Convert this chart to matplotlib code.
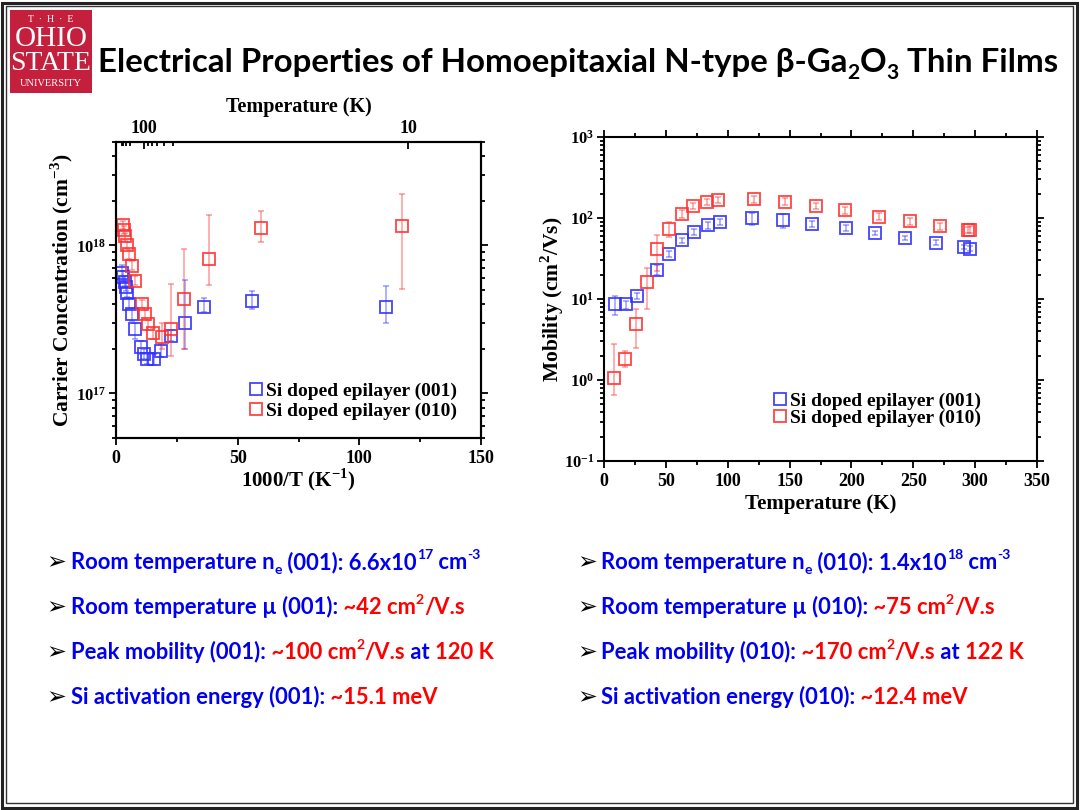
import matplotlib
matplotlib.use("Agg")
import matplotlib.pyplot as plt
from matplotlib.patches import Rectangle
from matplotlib.ticker import LogLocator, NullFormatter, MultipleLocator

W, H = 1080, 810
BODY = ["Lato", "Noto Sans", "DejaVu Sans"]
BLUE_T = "#0000F0"
RED_T = "#FF0000"
BLUE = "#3030FF"
RED = "#FF3030"

# carrier concentration vs 1000/T
x001 = [2.3, 3.0, 3.6, 4.1, 4.7, 5.5, 6.6, 7.8, 10.1, 11.5, 12.9, 15.6, 18.6, 22.5, 28.2, 36.2, 55.7, 111]
n001 = [6.56e17, 6.16e17, 5.7e17, 5.27e17, 4.8e17, 4.03e17, 3.44e17, 2.73e17, 2.05e17, 1.85e17,
        1.7e17, 1.7e17, 1.94e17, 2.46e17, 2.98e17, 3.82e17, 4.24e17, 3.82e17]
n001_lo = [6.1e17, 5.7e17, 5.3e17, 4.9e17, 4.45e17, 3.7e17, 3.1e17, 2.35e17, 1.85e17, 1.7e17,
           1.57e17, 1.55e17, 1.75e17, 2.25e17, 2.0e17, 3.55e17, 3.7e17, 3.0e17]
n001_hi = [7.4e17, 6.7e17, 6.2e17, 5.7e17, 5.2e17, 4.4e17, 3.75e17, 3.0e17, 2.25e17, 2.0e17,
           1.85e17, 1.85e17, 2.15e17, 2.7e17, 5.8e17, 4.4e17, 4.9e17, 5.3e17]

x010 = [3.0, 3.4, 3.8, 4.7, 5.3, 6.4, 7.8, 10.6, 11.8, 13.3, 15.4, 18.8, 22.5, 28.0, 38.4, 59.5, 117.5]
n010 = [1.38e18, 1.28e18, 1.15e18, 1.0e18, 8.7e17, 7.3e17, 5.77e17, 4.03e17, 3.44e17, 2.93e17,
        2.55e17, 2.42e17, 2.71e17, 4.33e17, 8.07e17, 1.32e18, 1.35e18]
n010_lo = [1.3e18, 1.2e18, 1.08e18, 9.4e17, 8.1e17, 6.8e17, 5.4e17, 3.75e17, 3.2e17, 2.7e17,
           2.35e17, 2.0e17, 1.8e17, 2.0e17, 5.4e17, 1.06e18, 5.1e17]
n010_hi = [1.46e18, 1.36e18, 1.22e18, 1.06e18, 9.3e17, 7.8e17, 6.2e17, 4.3e17, 3.7e17, 3.15e17,
           2.75e17, 3.0e17, 5.5e17, 9.5e17, 1.6e18, 1.7e18, 2.24e18]

# mobility vs temperature
T001 = [8.9, 17.5, 27, 43, 52.8, 63.4, 73, 83.8, 93.8, 120, 144.5, 168.5, 195.5, 219, 243.7, 268, 291, 296]
mu001 = [8.6, 8.7, 11, 23, 36, 53, 68, 82, 90, 100, 95, 85, 75, 65, 56.5, 49.4, 44, 42]
mu001_lo = [6.3, 7.5, 10, 20, 33, 49, 62, 74, 82, 83, 75, 78, 70, 62, 53, 46, 41, 39]
mu001_hi = [11, 9.5, 12, 26, 39, 57, 74, 90, 98, 115, 112, 92, 81, 70, 60, 53, 47, 45]

T010 = [8.1, 16.7, 25.9, 34.5, 43, 52.3, 62.8, 72.3, 83, 92.5, 121.3, 146.4, 171.5, 195, 222, 247, 271.8, 294, 295.5]
mu010 = [1.05, 1.8, 4.9, 16, 42, 74, 112, 140, 157, 165, 171, 159, 140, 124, 104, 91, 79, 71, 72]
mu010_lo = [0.65, 1.45, 2.5, 7.5, 22, 58, 100, 128, 145, 152, 155, 145, 128, 113, 95, 83, 72, 65, 66]
mu010_hi = [2.8, 2.3, 7.5, 24, 62, 90, 125, 153, 170, 180, 188, 175, 152, 136, 114, 100, 87, 78, 79]

top_ticks = [11.5, 120]
top_labels = ["100", "10"]
legend_labels = ["Si doped epilayer (001)", "Si doped epilayer (010)"]

title = "Electrical Properties of Homoepitaxial N-type \u03b2-Ga"
bullets_left = [
    [("Room temperature n", BLUE_T, "n"), ("e", BLUE_T, "sub"), (" (001): 6.6x10", BLUE_T, "n"),
     ("17", BLUE_T, "sup"), (" cm", BLUE_T, "n"), ("-3", BLUE_T, "sup")],
    [("Room temperature \u00b5 (001):", BLUE_T, "n"), (" ~42 cm", RED_T, "n"), ("2", RED_T, "sup"),
     ("/V.s", RED_T, "n")],
    [("Peak mobility (001):", BLUE_T, "n"), (" ~100 cm", RED_T, "n"), ("2", RED_T, "sup"),
     ("/V.s", RED_T, "n"), (" at ", BLUE_T, "n"), ("120 K", RED_T, "n")],
    [("Si activation energy (001):", BLUE_T, "n"), (" ~15.1 meV", RED_T, "n")],
]
bullets_right = [
    [("Room temperature n", BLUE_T, "n"), ("e", BLUE_T, "sub"), (" (010): 1.4x10", BLUE_T, "n"),
     ("18", BLUE_T, "sup"), (" cm", BLUE_T, "n"), ("-3", BLUE_T, "sup")],
    [("Room temperature \u00b5 (010):", BLUE_T, "n"), (" ~75 cm", RED_T, "n"), ("2", RED_T, "sup"),
     ("/V.s", RED_T, "n")],
    [("Peak mobility (010):", BLUE_T, "n"), (" ~170 cm", RED_T, "n"), ("2", RED_T, "sup"),
     ("/V.s", RED_T, "n"), (" at ", BLUE_T, "n"), ("122 K", RED_T, "n")],
    [("Si activation energy (010):", BLUE_T, "n"), (" ~12.4 meV", RED_T, "n")],
]
bullet_rows = [569, 614, 659, 704]

plt.rcParams["font.family"] = "Liberation Serif"
plt.rcParams["font.weight"] = "bold"
plt.rcParams["axes.labelweight"] = "bold"
plt.rcParams["mathtext.fontset"] = "custom"
plt.rcParams["mathtext.rm"] = "Liberation Serif:bold"
plt.rcParams["mathtext.bf"] = "Liberation Serif:bold"

fig = plt.figure(figsize=(10.8, 8.1), dpi=100)
renderer = fig.canvas.get_renderer()


def box(x0, y0, x1, y1):
    return [x0 / W, 1 - y1 / H, (x1 - x0) / W, (y1 - y0) / H]


def runs(x, y, parts, size):
    # draw text pieces one after another on a common baseline (pixel coords)
    for txt, col, kind in parts:
        fs, dy = size, 0.0
        if kind == "sup":
            fs, dy = size * 0.64, size * 0.45 * 100 / 72
        elif kind == "sub":
            fs, dy = size * 0.64, -size * 0.22 * 100 / 72
        t = fig.text(x / W, 1 - (y - dy) / H, txt, color=col, fontsize=fs, family=BODY,
                     weight="bold", ha="left", va="baseline")
        x += t.get_window_extent(renderer).width
    return x


def style(ax):
    for s in ax.spines.values():
        s.set_linewidth(1.5)
    ax.tick_params(which="both", width=1.3, labelsize=13)
    ax.tick_params(axis="y", labelsize=12, pad=2)
    ax.tick_params(which="major", length=5)
    ax.tick_params(which="minor", length=3)


def errs(v, lo, hi):
    return [[a - b for a, b in zip(v, lo)], [b - a for a, b in zip(v, hi)]]


# left chart
ax1 = fig.add_axes(box(116, 142, 481, 438))
for xs, ys, lo, hi, c, lab in [(x001, n001, n001_lo, n001_hi, BLUE, legend_labels[0]),
                               (x010, n010, n010_lo, n010_hi, RED, legend_labels[1])]:
    ax1.errorbar(xs, ys, yerr=errs(ys, lo, hi), fmt="none", ecolor=c, alpha=0.45,
                 elinewidth=1.2, capsize=2.5, capthick=1.2)
    ax1.plot(xs, ys, "s", mfc="none", mec=c, mew=1.3, ms=9, label=lab, alpha=0.9)
ax1.set_yscale("log")
ax1.set_xlim(0, 150)
ax1.set_ylim(5e16, 5e18)
ax1.xaxis.set_major_locator(MultipleLocator(50))
ax1.xaxis.set_minor_locator(MultipleLocator(25))
ax1.yaxis.set_major_locator(LogLocator(base=10, numticks=5))
ax1.yaxis.set_minor_locator(LogLocator(base=10, subs=range(2, 10), numticks=20))
ax1.yaxis.set_minor_formatter(NullFormatter())
ax1.tick_params(which="both", direction="out", right=True)
style(ax1)
ax1.set_xlabel("1000/T (K$^{\\mathregular{-1}}$)", fontsize=15, labelpad=0)
ax1.set_ylabel("Carrier Concentration (cm$^{\\mathregular{-3}}$)", fontsize=15.5, labelpad=1)
ax1.legend(loc="lower left", bbox_to_anchor=(0.34, 0.035), frameon=False, fontsize=14,
           handlelength=0.8, handletextpad=0.15, labelspacing=0.1, borderaxespad=0)

axt = ax1.twiny()
axt.set_xlim(0, 150)
axt.set_xticks(top_ticks)
axt.set_xticklabels(top_labels)
axt.set_xticks([1000 / t * 1.18 for t in [50, 60, 70, 80, 90, 200, 300, 400, 500]], minor=True)
axt.tick_params(which="both", direction="in")
style(axt)
axt.set_xlabel("Temperature (K)", fontsize=14.5, labelpad=6)

# right chart
ax2 = fig.add_axes(box(604, 137, 1037, 461))
for xs, ys, lo, hi, c, lab in [(T001, mu001, mu001_lo, mu001_hi, BLUE, legend_labels[0]),
                               (T010, mu010, mu010_lo, mu010_hi, RED, legend_labels[1])]:
    ax2.errorbar(xs, ys, yerr=errs(ys, lo, hi), fmt="none", ecolor=c, alpha=0.45,
                 elinewidth=1.2, capsize=2.5, capthick=1.2)
    ax2.plot(xs, ys, "s", mfc="none", mec=c, mew=1.3, ms=9, label=lab, alpha=0.9)
ax2.set_yscale("log")
ax2.set_xlim(0, 350)
ax2.set_ylim(0.1, 1000)
ax2.xaxis.set_major_locator(MultipleLocator(50))
ax2.xaxis.set_minor_locator(MultipleLocator(25))
ax2.yaxis.set_major_locator(LogLocator(base=10, numticks=10))
ax2.yaxis.set_minor_locator(LogLocator(base=10, subs=range(2, 10), numticks=20))
ax2.yaxis.set_minor_formatter(NullFormatter())
ax2.tick_params(which="both", direction="in", top=True, right=True, labeltop=False, labelright=False)
ax2.tick_params(axis="x", which="both", direction="out")
ax2.tick_params(axis="y", which="both", direction="out")
style(ax2)
ax2.set_xlabel("Temperature (K)", fontsize=15, labelpad=3)
ax2.set_ylabel("Mobility (cm$^{\\mathregular{2}}$/Vs)", fontsize=15.5, labelpad=-2)
ax2.legend(loc="lower left", bbox_to_anchor=(0.37, 0.08), frameon=False, fontsize=14,
           handlelength=0.8, handletextpad=0.15, labelspacing=0.0, borderaxespad=0)

# slide frame
fig.patches.append(Rectangle((2 / W, 2 / H), 1 - 5 / W, 1 - 5 / H, transform=fig.transFigure,
                             fill=False, ec="#222222", lw=2.2))
fig.patches.append(Rectangle((6 / W, 7 / H), 1 - 13 / W, 1 - 13 / H, transform=fig.transFigure,
                             fill=False, ec="#333333", lw=1.0))

# logo
fig.patches.append(Rectangle((10 / W, 1 - 93 / H), 82 / W, 83 / H, transform=fig.transFigure,
                             fc="#C4203E", ec="none"))
fig.text(51 / W, 1 - 19 / H, "T  \u00b7  H  \u00b7  E", color="white", fontsize=7, family="Liberation Serif",
         weight="normal", ha="center", va="center")
fig.text(51 / W, 1 - 39 / H, "OHIO", color="white", fontsize=21, family="Liberation Serif",
         weight="normal", ha="center", va="center")
fig.text(51 / W, 1 - 63 / H, "STATE", color="white", fontsize=20, family="Liberation Serif",
         weight="normal", ha="center", va="center")
fig.text(51 / W, 1 - 83 / H, "UNIVERSITY", color="white", fontsize=7.5, family="Liberation Serif",
         weight="normal", ha="center", va="center")

# title
tx = runs(98, 72, [(title, "black", "n"), ("2", "black", "sub"), ("O", "black", "n"),
                   ("3", "black", "sub"), (" Thin Films", "black", "n")], 23.8)

# bullets
for col_x, arrow_x, lines in [(71, 46, bullets_left), (601, 577, bullets_right)]:
    for y, parts in zip(bullet_rows, lines):
        fig.text(arrow_x / W, 1 - y / H, "\u27a2", fontsize=17, family="DejaVu Sans",
                 color="black", ha="left", va="baseline")
        runs(col_x, y, parts, 15.8)

fig.savefig("out.png", dpi=100)
